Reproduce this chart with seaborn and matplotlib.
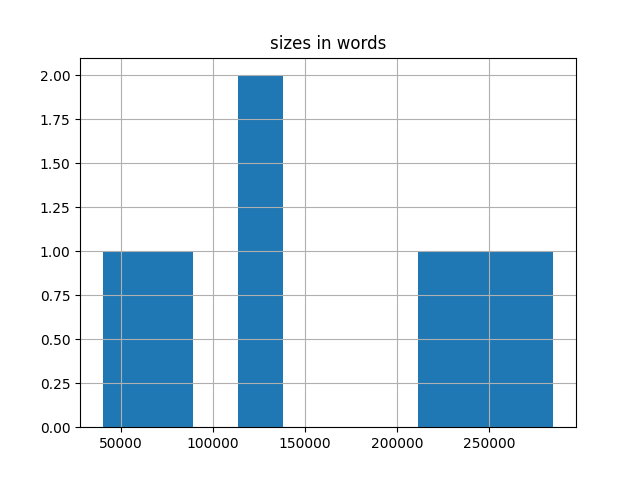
import matplotlib
matplotlib.use("Agg")
import matplotlib.pyplot as plt
import seaborn as sns
import pandas as pd

documents = ["doc1", "doc2", "doc3", "doc4", "doc5", "doc6", "doc7"]
sizes_in_words = [40000, 72000, 118000, 130000, 222000, 248000, 285000]

df = pd.DataFrame({"document": documents, "words": sizes_in_words})

fig, ax = plt.subplots(figsize=(6.4, 4.8), dpi=100)
sns.histplot(data=df, x="words", bins=10, ax=ax, color="#1f77b4",
             alpha=1.0, linewidth=0, edgecolor="none")
ax.grid(True)
ax.set_axisbelow("line")
ax.set_xlabel("")
ax.set_ylabel("")
ax.set_title("sizes in words")
fig.savefig("out.png", dpi=100)
